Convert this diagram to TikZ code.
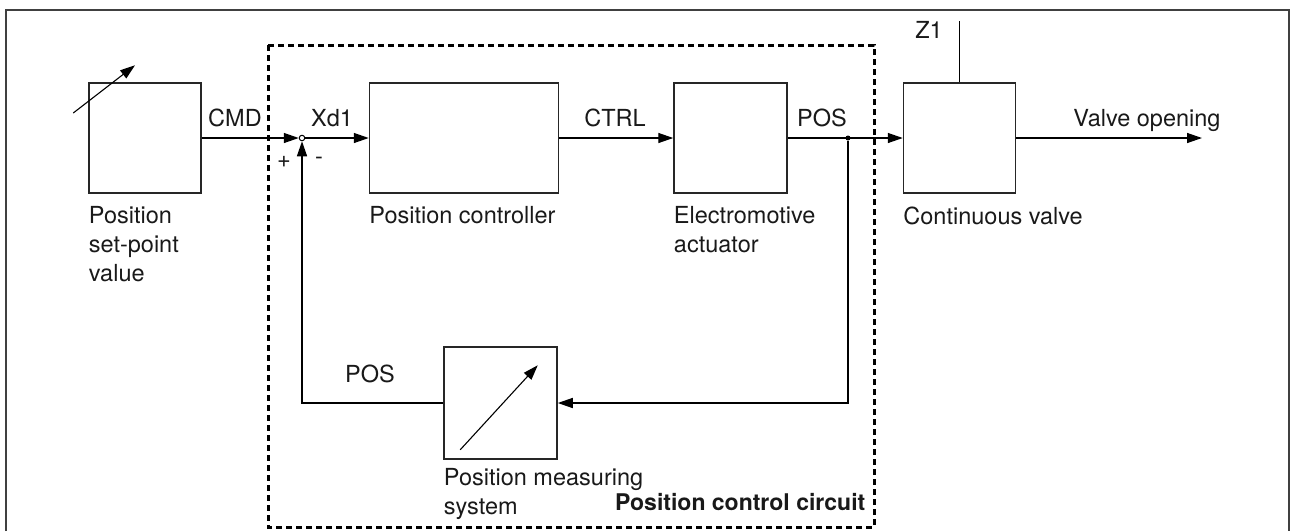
\documentclass[tikz,border=0pt]{standalone}
\usepackage{fontspec}
\setmainfont{TeX Gyre Heros}
\usetikzlibrary{arrows.meta, positioning}

\begin{document}
\begin{tikzpicture}[x=1pt,y=-1pt,>={Triangle[length=15pt,width=10pt]},
  line width=1.4pt,font=\fontsize{23.5}{29}\selectfont,
  block/.style={rectangle,draw,black!85,line width=1.5pt,minimum height=110pt,inner sep=0pt},
  lbl/.style={inner sep=0pt,align=left,text=black!90},
  sum/.style={circle,draw,fill=white,inner sep=0pt,minimum size=5.5pt,line width=1pt},
  tap/.style={circle,fill,inner sep=0pt,minimum size=5pt}]
  \useasboundingbox (0,0) rectangle (1293,531);
  % outer frame, its bottom edge runs off the page
  \draw[black!75,line width=1.6pt] (6,531) |- (1289,10) -- (1289,531);
  % position control circuit
  \draw[line width=3pt,dash pattern=on 6pt off 4pt] (268,45) rectangle (874,527);

  \node[block,minimum width=112pt] (SP) at (145,138) {};
  \node[block,minimum width=189pt] (PC) [right=167pt of SP] {};
  \node[block,minimum width=113pt] (EA) [right=114pt of PC] {};
  \node[block,minimum width=112pt] (CV) [right=115pt of EA] {};
  \node[block,minimum width=113pt,minimum height=112pt] (PM) at (500.5,403) {};
  \node[sum] (J) at (302,138) {};
  \coordinate (Z1) at ([yshift=61pt]CV.north);
  \coordinate (VO) at (1202,138);

  \path[->]
    (SP) edge (J)
    (J) edge (PC)
    (PC) edge (EA)
    (EA) edge (CV)
    (CV) edge (VO);
  \draw (CV) -- (Z1);
  \node[tap] (D) at (848,138) {};
  % feedback loop
  \draw[->] (D) |- (PM);
  \draw[->] (PM) -| (J);

  % adjust arrows inside the boxes
  \draw[->,line width=1.1pt] ([shift={(-15,-25)}]SP.west) -- ([shift={(-10,-17)}]SP.north);
  \draw[->,line width=1.1pt] ([shift={(17,-10)}]PM.south west) -- ([shift={(-20,19)}]PM.north east);

  \node[lbl,anchor=base] (cmd) at (235,126) {CMD};
  \node[lbl,anchor=base] (xd) at (332,126) {Xd1};
  \node[lbl,anchor=base] (ctrl) at (615,126) {CTRL};
  \node[lbl,anchor=base] (pos) at (822,126) {POS};
  \node[lbl,anchor=base] (vo) at (1147,126) {Valve opening};
  \node[lbl,anchor=base] (z) at (929,38) {Z1};
  \node[lbl,anchor=base] (posfb) at (370,382) {POS};
  \node[lbl] (plus) at (284,162) {+};
  \node[lbl] (minus) at (319,161) {-};

  \node[lbl,below right=12pt and 0pt of SP.south west] (SPlab) {Position\\set-point\\value};
  \node[lbl,below right=12pt and 0pt of PC.south west] (PClab) {Position controller};
  \node[lbl,below right=12pt and 0pt of EA.south west] (EAlab) {Electromotive\\actuator};
  \node[lbl,below right=12pt and 0pt of CV.south west] (CVlab) {Continuous valve};
  \node[lbl,below right=8pt and 0pt of PM.south west] (PMlab) {Position measuring\\system};
  \node[lbl,anchor=base east,font=\fontsize{23}{29}\selectfont\bfseries] (circ) at (866,510) {Position control circuit};
\end{tikzpicture}
\end{document}
